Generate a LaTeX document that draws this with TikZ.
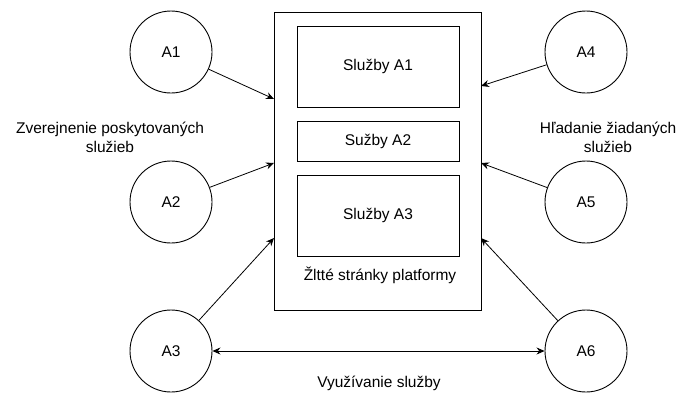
\documentclass[tikz,border=0pt]{standalone}
\usepackage{fontspec}
\setmainfont{Liberation Sans}
\usetikzlibrary{arrows.meta}
\begin{document}
\begin{tikzpicture}[x=1pt,y=-1pt,
  every node/.style={font=\fontsize{15.5}{19}\selectfont, inner sep=0pt},
  actor/.style={draw, circle, minimum size=82pt, line width=0.9pt},
  box/.style={draw, rectangle, line width=0.9pt},
  link/.style={-{Stealth[length=8pt,width=7pt]}, line width=0.8pt},
  lbl/.style={align=center}]
\useasboundingbox (0,0) rectangle (686,397);

% platform frame and its service boxes
\node[box, minimum width=207pt, minimum height=298pt] (plat) at (377.5,161) {};
\node[box, minimum width=162pt, minimum height=81pt] (s1) at (378,66.5) {Služby A1};
\node[box, minimum width=162pt, minimum height=40pt] (s2) at (378,141) {Sužby A2};
\node[box, minimum width=162pt, minimum height=81pt] (s3) at (378,215.5) {Služby A3};
\node (plabel) at (380,275) {Žltté stránky platformy};

% actors
\node[actor] (a1) at (171,52) {A1};
\node[actor] (a2) at (171,202) {A2};
\node[actor] (a3) at (171,351) {A3};
\node[actor] (a4) at (586,52) {A4};
\node[actor] (a5) at (586,202) {A5};
\node[actor] (a6) at (586,351) {A6};

% arrow targets on the frame border
\coordinate (pl1) at (274,99);
\coordinate (pl2) at (274,163);
\coordinate (pl3) at (274,238);
\coordinate (pr1) at (481,86);
\coordinate (pr2) at (481,163);
\coordinate (pr3) at (481,238);

\draw[link] (a1) -- (pl1);
\draw[link] (a2) -- (pl2);
\draw[link] (a3) -- (pl3);
\draw[link] (a4) -- (pr1);
\draw[link] (a5) -- (pr2);
\draw[link] (a6) -- (pr3);
\draw[link, {Stealth[length=8pt,width=7pt]}-{Stealth[length=8pt,width=7pt]}] (a3) -- (a6);

% captions
\node[lbl] (tpub) at (110,137.5) {Zverejnenie poskytovaných\\služieb};
\node[lbl] (tsrch) at (608,137.5) {Hľadanie žiadaných\\služieb};
\node (tuse) at (379,383) {Využívanie služby};
\end{tikzpicture}
\end{document}
